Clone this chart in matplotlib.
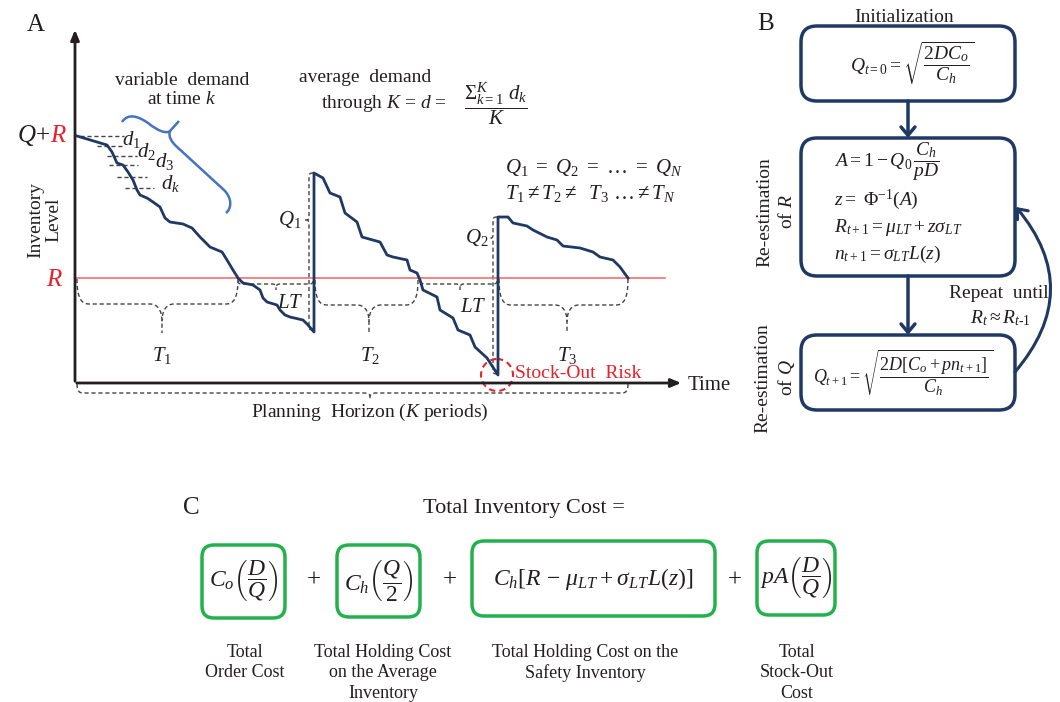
import numpy as np
import matplotlib
matplotlib.use('Agg')
import matplotlib.pyplot as plt
from matplotlib.path import Path
from matplotlib.patches import PathPatch, FancyBboxPatch, FancyArrowPatch, Circle

plt.rcParams['font.family'] = ['Liberation Serif', 'DejaVu Serif']
plt.rcParams['mathtext.fontset'] = 'custom'
plt.rcParams['mathtext.rm'] = 'Liberation Serif'
plt.rcParams['mathtext.it'] = 'Liberation Serif:italic'
plt.rcParams['mathtext.bf'] = 'Liberation Serif:bold'

# inventory path (time units, inventory units)
time_pts = [2, 22, 32, 37, 42, 48, 53, 58, 62, 65, 72, 78, 85, 90, 95, 108, 117, 125,
            135, 147, 152, 158, 163, 168, 178, 185, 188, 192, 202, 205, 210, 215, 228,
            233, 239,
            239, 248, 255, 265, 270, 282, 287, 305, 312, 318, 332, 335, 342, 345, 348,
            362, 365, 378, 383, 395, 400, 412, 423,
            423, 433, 438, 452, 458, 472, 482, 488, 505, 518, 525, 538, 545, 553]
level_pts = [247, 241, 238, 231, 220, 218, 211, 203, 193, 188, 185, 181, 176, 165, 161,
             159, 155, 146, 136, 131, 123, 113, 105, 100, 98, 93, 85, 81, 78, 73, 68, 66,
             63, 58, 51,
             210, 205, 190, 186, 170, 161, 146, 141, 128, 126, 123, 113, 110, 103, 93,
             86, 73, 65, 53, 48, 36, 25, 8,
             166, 166, 160, 157, 153, 146, 143, 137, 135, 131, 126, 123, 116, 105]
reorder_level = 105
max_level = 247
horizon_end = 553

cost_terms = [r'$C_o\left(\dfrac{D}{Q}\right)$', r'$C_h\left(\dfrac{Q}{2}\right)$',
              r'$C_h[R\,-\,\mu_{LT}+\sigma_{LT}L(z)]$', r'$pA\left(\dfrac{D}{Q}\right)$']
cost_labels = ['Total\nOrder Cost', 'Total Holding Cost\non the Average\nInventory',
               'Total Holding Cost on the\nSafety Inventory', 'Total\nStock-Out\nCost']

navy = '#1f3864'
ink = '#231f20'
red = '#e8202a'
green = '#22b14c'
dash_kw = dict(color='#444444', lw=1.0, ls=(0, (3, 2)))

fig = plt.figure(figsize=(10.6, 7.02), dpi=100)
ax = fig.add_axes([0, 0, 1, 1])
ax.set_xlim(0, 1060)
ax.set_ylim(702, 0)
ax.axis('off')

# panel A data axes: origin at pixel (75, 383)
ax_a = fig.add_axes([75 / 1060, (702 - 383) / 702, 620 / 1060, 360 / 702])
ax_a.set_xlim(0, 620)
ax_a.set_ylim(0, 360)
ax_a.axis('off')
ax_a.patch.set_alpha(0)


def brace_uv(u0, u1, h, ut, tip, c):
    # half braces in local (u along, v outward)
    left = [(u0, 0), (u0, h * 0.8), (u0 + c * 0.4, h), (u0 + c, h),
            (ut - c, h), (ut - c * 0.4, h), (ut, h + tip * 0.2), (ut, h + tip * 0.6),
            (ut, h + tip)]
    right = [(u1, 0), (u1, h * 0.8), (u1 - c * 0.4, h), (u1 - c, h),
             (ut + c, h), (ut + c * 0.4, h), (ut, h + tip * 0.2), (ut, h + tip * 0.6)]
    return left, right


def draw_brace(u0, u1, base, h, ut, tip, c, vertical=False, **kw):
    codes_l = [Path.MOVETO, Path.CURVE4, Path.CURVE4, Path.CURVE4, Path.LINETO,
               Path.CURVE4, Path.CURVE4, Path.CURVE4, Path.LINETO]
    codes_r = codes_l[:-1]
    for pts, codes in zip(brace_uv(u0, u1, h, ut, tip, c), (codes_l, codes_r)):
        if vertical:
            xy = [(base - v, u) for u, v in pts]
        else:
            xy = [(u, base + v) for u, v in pts]
        ax.add_patch(PathPatch(Path(xy, codes), fill=False, **kw))


# ---------------- panel A ----------------
ax_a.annotate('', xy=(0, 356), xytext=(0, -1), annotation_clip=False,
              arrowprops=dict(arrowstyle='-|>,head_length=0.6,head_width=0.25',
                              color=ink, lw=2))
ax_a.annotate('', xy=(609, 0), xytext=(-1, 0), annotation_clip=False,
              arrowprops=dict(arrowstyle='-|>,head_length=0.6,head_width=0.25',
                              color=ink, lw=2))
ax_a.plot([0, 590], [reorder_level, reorder_level], color='#f27070', lw=1.2, zorder=2)
ax_a.plot(time_pts, level_pts, color=navy, lw=2, zorder=3, solid_joinstyle='round')

# demand step ticks
for y, x0, x1 in [(136, 80, 124), (146, 97, 122), (156, 107, 137), (165, 109, 138),
                  (177, 117, 147), (188, 125, 154)]:
    ax.plot([x0, x1], [y, y], **dash_kw)
for s, x, y in [('$d_1$', 131, 139), ('$d_2$', 146, 151), ('$d_3$', 165, 162),
                ('$d_k$', 171, 183)]:
    ax.text(x, y, s, fontsize=15, ha='center', va='center', color=ink)

# blue brace
bp1 = Path([(122, 122), (128, 113), (138, 116), (148, 123), (158, 131), (166, 134),
            (170, 131), (173, 128), (176, 124), (179, 121)],
           [Path.MOVETO] + [Path.CURVE4] * 9)
bp2 = Path([(170, 131), (168, 137), (172, 142), (176, 146), (224, 190), (232, 198),
            (232, 208), (226, 213)],
           [Path.MOVETO, Path.CURVE4, Path.CURVE4, Path.CURVE4, Path.LINETO,
            Path.CURVE4, Path.CURVE4, Path.CURVE4])
for p in (bp1, bp2):
    ax.add_patch(PathPatch(p, fill=False, color='#4472c4', lw=1.8))

# period braces
draw_brace(77, 238, 279, 25, 162, 29, 12, **dash_kw)
draw_brace(315, 418, 280, 25, 369, 28, 12, **dash_kw)
draw_brace(499, 628, 279, 26, 567, 28, 12, **dash_kw)
draw_brace(238, 313, 281, 3, 276, 6, 4, **dash_kw)
draw_brace(421, 497, 281, 3, 460, 6, 4, **dash_kw)
draw_brace(77, 628, 384, 9, 370, 6, 6, **dash_kw)
draw_brace(173, 330, 313, 4, 220, 4, 3, vertical=True, **dash_kw)
draw_brace(217, 374, 497, 4, 238, 4, 3, vertical=True, **dash_kw)

ax.add_patch(Circle((497, 375), 16, fill=False, ec=red, lw=1.5, ls=(0, (3, 2))))

ax.text(36, 25, 'A', fontsize=18, ha='center', va='center', color=ink)
ax.text(50, 136, '$Q$+', fontsize=18, ha='right', va='center', color=ink)
ax.text(50, 136, '$R$', fontsize=18, ha='left', va='center', color=red)
ax.text(55, 280, '$R$', fontsize=18, ha='center', va='center', color=red)
ax.text(45, 220, 'Inventory\nLevel', fontsize=14, rotation=90, ha='center',
        va='center', linespacing=1.05, color=ink)
ax.text(182, 90, 'variable  demand\nat time $k$', fontsize=14, ha='center',
        va='center', color=ink)
ax.text(365, 78, 'average  demand', fontsize=14, ha='center', va='center', color=ink)
ax.text(447, 103, 'through $K$ = $d$ =', fontsize=14, ha='right', va='center',
        color=ink)
ax.text(496, 104, r'$\dfrac{\Sigma_{k=1}^{K}\ d_k}{K}$', fontsize=15, ha='center',
        va='center', color=ink)
ax.text(505, 167, r'$Q_1\ =\ Q_2\ =\ \ldots\ =\ Q_N$', fontsize=15, ha='left',
        va='center', color=ink)
ax.text(505, 193, r'$T_1 \neq T_2 \neq\ \ T_3\ \ldots \neq T_N$', fontsize=15,
        ha='left', va='center', color=ink)
ax.text(290, 220, '$Q_1$', fontsize=15, ha='center', va='center', color=ink)
ax.text(477, 238, '$Q_2$', fontsize=15, ha='center', va='center', color=ink)
ax.text(290, 303, '$LT$', fontsize=15, ha='center', va='center', color=ink)
ax.text(473, 307, '$LT$', fontsize=15, ha='center', va='center', color=ink)
for s, x in [('$T_1$', 162), ('$T_2$', 370), ('$T_3$', 567)]:
    ax.text(x, 356, s, fontsize=15, ha='center', va='center', color=ink)
ax.text(515, 374, 'Stock-Out  Risk', fontsize=14, ha='left', va='center', color=red)
ax.text(688, 385, 'Time', fontsize=15, ha='left', va='center', color=ink)
ax.text(370, 412, 'Planning  Horizon ($K$ periods)', fontsize=14, ha='center',
        va='center', color=ink)

# ---------------- panel B ----------------
ax.text(766, 24, 'B', fontsize=18, ha='center', va='center', color=ink)
ax.text(904, 18, 'Initialization', fontsize=14, ha='center', va='center', color=ink)
for y0, y1 in [(26, 101), (138, 276), (335, 410)]:
    ax.add_patch(FancyBboxPatch((801, y0), 214, y1 - y0,
                                boxstyle='round,pad=0,rounding_size=16',
                                fc='white', ec=navy, lw=2.5))
ax.text(912, 63, r'$Q_{t=0} = \sqrt{\dfrac{2DC_o}{C_h}}$', fontsize=14,
        ha='center', va='center', color=ink)
for s, y in [(r'$A = 1 - Q_0\,\dfrac{C_h}{pD}$', 162),
             (r'$z =\ \Phi^{-1}(A)$', 200),
             (r'$R_{t+1} = \mu_{LT} + z\sigma_{LT}$', 227),
             (r'$n_{t+1} = \sigma_{LT}L(z)$', 254)]:
    ax.text(834, y, s, fontsize=14, ha='left', va='center', color=ink)
ax.text(813, 373, r'$Q_{t+1} = \sqrt{\dfrac{2D[C_o+pn_{t+1}]}{C_h}}$', fontsize=13,
        ha='left', va='center', color=ink)
for y0, y1 in [(101, 138), (276, 335)]:
    ax.add_patch(FancyArrowPatch((908, y0), (908, y1),
                                 arrowstyle='->,head_length=6,head_width=5',
                                 color=navy, lw=2.5, shrinkA=0, shrinkB=0))
ax.add_patch(FancyArrowPatch((1015, 372), (1016, 207),
                             connectionstyle='arc3,rad=0.42',
                             arrowstyle='->,head_length=6,head_width=5',
                             color=navy, lw=2.2, shrinkA=0, shrinkB=0))
ax.text(999, 293, 'Repeat  until', fontsize=14, ha='center', va='center', color=ink)
ax.text(1000, 318, r'$R_t \approx R_{t\text{-}1}$', fontsize=14, ha='center',
        va='center', color=ink)
ax.text(776, 212, 'Re-estimation\nof $R$', fontsize=14, rotation=90, ha='center',
        va='center', linespacing=1.3, color=ink)
ax.text(776, 378, 'Re-estimation\nof $Q$', fontsize=14, rotation=90, ha='center',
        va='center', linespacing=1.3, color=ink)

# ---------------- panel C ----------------
ax.text(191, 508, 'C', fontsize=18, ha='center', va='center', color=ink)
ax.text(524, 508, 'Total Inventory Cost =', fontsize=16, ha='center', va='center',
        color=ink)
boxes = [(202, 285, 545, 618), (337, 420, 545, 617), (472, 715, 541, 616),
         (757, 835, 541, 615)]
label_x = [245, 383, 585, 797]
for (x0, x1, y0, y1), term, lab, lx in zip(boxes, cost_terms, cost_labels, label_x):
    ax.add_patch(FancyBboxPatch((x0, y0), x1 - x0, y1 - y0,
                                boxstyle='round,pad=0,rounding_size=12',
                                fc='white', ec=green, lw=2.5))
    ax.text((x0 + x1) / 2, (y0 + y1) / 2, term, fontsize=17, ha='center',
            va='center', color=ink)
    ax.text(lx, 644, lab, fontsize=13, ha='center', va='top', linespacing=1.25,
            color=ink)
for x in [314, 450, 735]:
    ax.text(x, 581, '+', fontsize=18, ha='center', va='center', color=ink)

fig.savefig('out.png', dpi=100)
